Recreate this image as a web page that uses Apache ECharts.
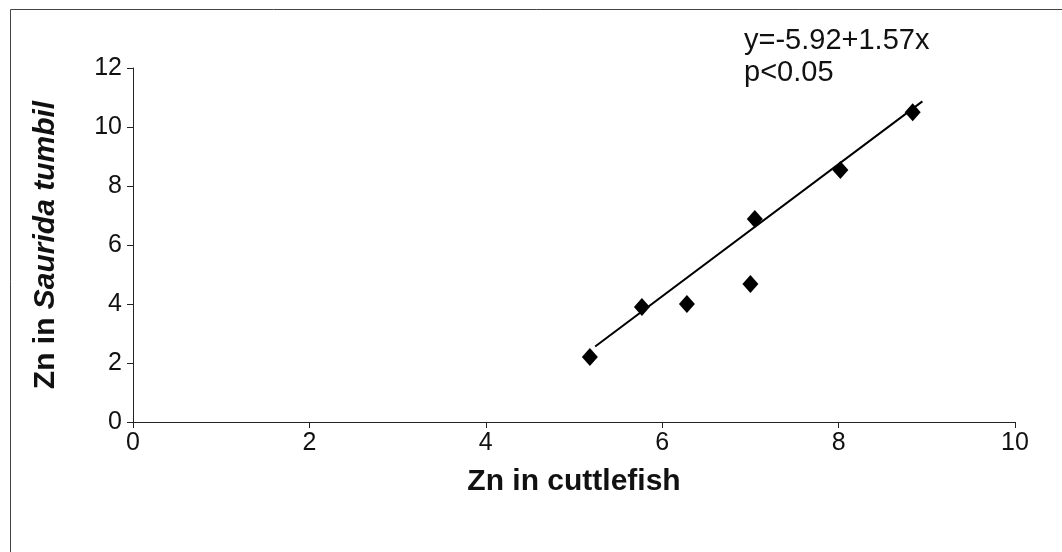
<!DOCTYPE html>
<html>
<head>
<meta charset="utf-8">
<script src="https://cdn.jsdelivr.net/npm/echarts@6/dist/echarts.min.js"></script>
<style>html,body{margin:0;padding:0;background:#fff}#c{width:1062px;height:552px}</style>
</head>
<body>
<div id="c"></div>
<script>
// Data
var cuttlefishZn = [5.18, 5.77, 6.28, 7.0, 7.05, 8.02, 8.84];
var sauridaZn   = [2.2, 3.9, 4.0, 4.68, 6.88, 8.54, 10.5];
var fitLineX = [5.24, 8.95];
var fitLineY = [2.56, 10.87];
var xTicks = [0, 2, 4, 6, 8, 10];
var yTicks = [0, 2, 4, 6, 8, 10, 12];
var annotation = ['y=-5.92+1.57x', 'p<0.05'];

var pts = cuttlefishZn.map(function(x, i){ return [x, sauridaZn[i]]; });
var fit = fitLineX.map(function(x, i){ return [x, fitLineY[i]]; });
var font = '"Liberation Sans", Arial, sans-serif';

var chart = echarts.init(document.getElementById('c'));
chart.setOption({
  animation: false,
  backgroundColor: '#fff',
  grid: {left: 133, right: 47, top: 68, bottom: 130},
  xAxis: {
    type: 'value', min: xTicks[0], max: xTicks[xTicks.length-1], interval: 2,
    name: 'Zn in cuttlefish', nameLocation: 'middle', nameGap: 45,
    nameTextStyle: {fontFamily: font, fontSize: 30, fontWeight: 'bold', color: '#111'},
    axisLine: {show: true, lineStyle: {color: '#222', width: 1}},
    axisTick: {show: true, inside: false, length: 6, lineStyle: {color: '#222'}},
    axisLabel: {fontFamily: font, fontSize: 25, color: '#111', margin: 9},
    splitLine: {show: false}
  },
  yAxis: {
    type: 'value', min: yTicks[0], max: yTicks[yTicks.length-1], interval: 2,
    name: '{a|Zn in }{b|Saurida tumbil}', nameLocation: 'middle', nameGap: 72, nameRotate: 90,
    nameTextStyle: {
      rich: {
        a: {fontFamily: font, fontSize: 30, fontWeight: 'bold', color: '#111'},
        b: {fontFamily: font, fontSize: 30, fontWeight: 'bold', fontStyle: 'italic', color: '#111'}
      }
    },
    axisLine: {show: true, lineStyle: {color: '#222', width: 1}},
    axisTick: {show: true, inside: false, length: 6, lineStyle: {color: '#222'}},
    axisLabel: {fontFamily: font, fontSize: 25, color: '#111', margin: 11},
    splitLine: {show: false}
  },
  series: [
    {
      type: 'line', data: fit, symbol: 'none', silent: true,
      lineStyle: {color: '#000', width: 2}, z: 2
    },
    {
      type: 'scatter', data: pts, symbol: 'diamond', symbolSize: [16, 18],
      itemStyle: {color: '#000', opacity: 1}, z: 3
    }
  ],
  graphic: [
    {type: 'rect', left: 8, top: 7, shape: {width: 1100, height: 600},
     style: {fill: 'none', stroke: '#444', lineWidth: 1}, silent: true},
    {type: 'text', left: 744, top: 25,
     style: {text: annotation.join('\n'), fontFamily: font, fontSize: 29, lineHeight: 32, fill: '#111'}}
  ]
});
</script>
</body>
</html>
